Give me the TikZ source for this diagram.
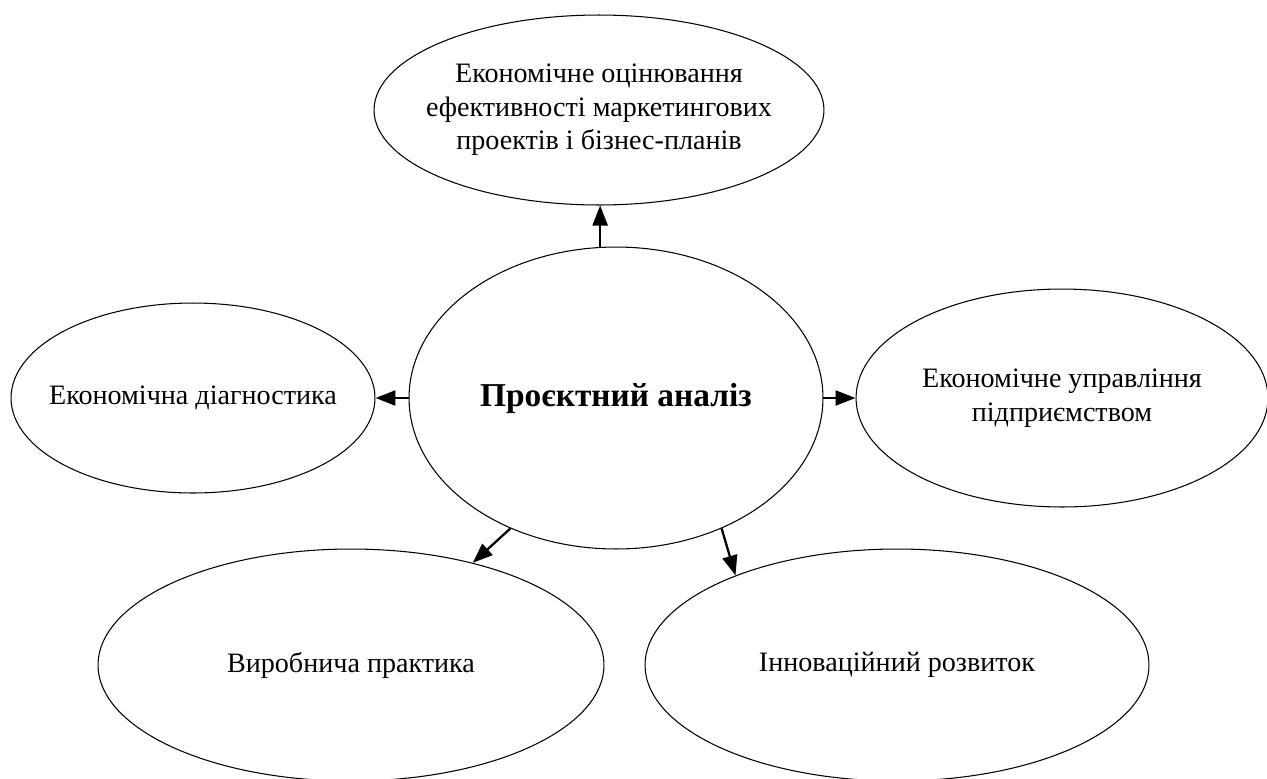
\documentclass[tikz,border=0pt]{standalone}
\usepackage{fontspec}
\setmainfont{Liberation Serif}
\usetikzlibrary{shapes.geometric, arrows.meta}

\begin{document}
\begin{tikzpicture}[x=0.02cm, y=-0.02cm,
    elli/.style={ellipse, draw, line width=0.6pt, inner xsep=-1.5cm, inner ysep=-0.5cm, align=center, font=\fontsize{16}{19}\selectfont},
    link/.style={->, >={Triangle[length=4mm, width=3mm]}, line width=1.3pt}]
      \useasboundingbox (0,0) rectangle (1267,778);
      %
      \node[elli, minimum width=8.28cm, minimum height=6.04cm, font=\fontsize{19}{22}\selectfont\bfseries] (proj) at (616,398) {Проєктний аналіз};
      \node[elli, minimum width=9cm, minimum height=3.8cm] (ocin) at (599,110) {Економічне оцінювання\\ефективності маркетингових\\проектів і бізнес-планів};
      \node[elli, minimum width=7.28cm, minimum height=3.8cm] (diag) at (193,398) {Економічна діагностика};
      \node[elli, minimum width=8.24cm, minimum height=4.36cm] (uprav) at (1062,398) {Економічне управління\\підприємством};
      \node[elli, minimum width=10.12cm, minimum height=4.64cm] (vyrob) at (351,665) {Виробнича практика};
      \node[elli, minimum width=10.08cm, minimum height=4.64cm] (innov) at (897,665) {Інноваційний розвиток};
      %
      \draw[link] (proj.96) -- (proj.96 |- ocin.south);
      \draw[link] (proj.west) -- (diag.east);
      \draw[link] (proj.east) -- (uprav.west);
      \draw[link] (proj.231) -- (vyrob.40);
      \draw[link] (proj.309) -- (innov.151);
\end{tikzpicture}
\end{document}
